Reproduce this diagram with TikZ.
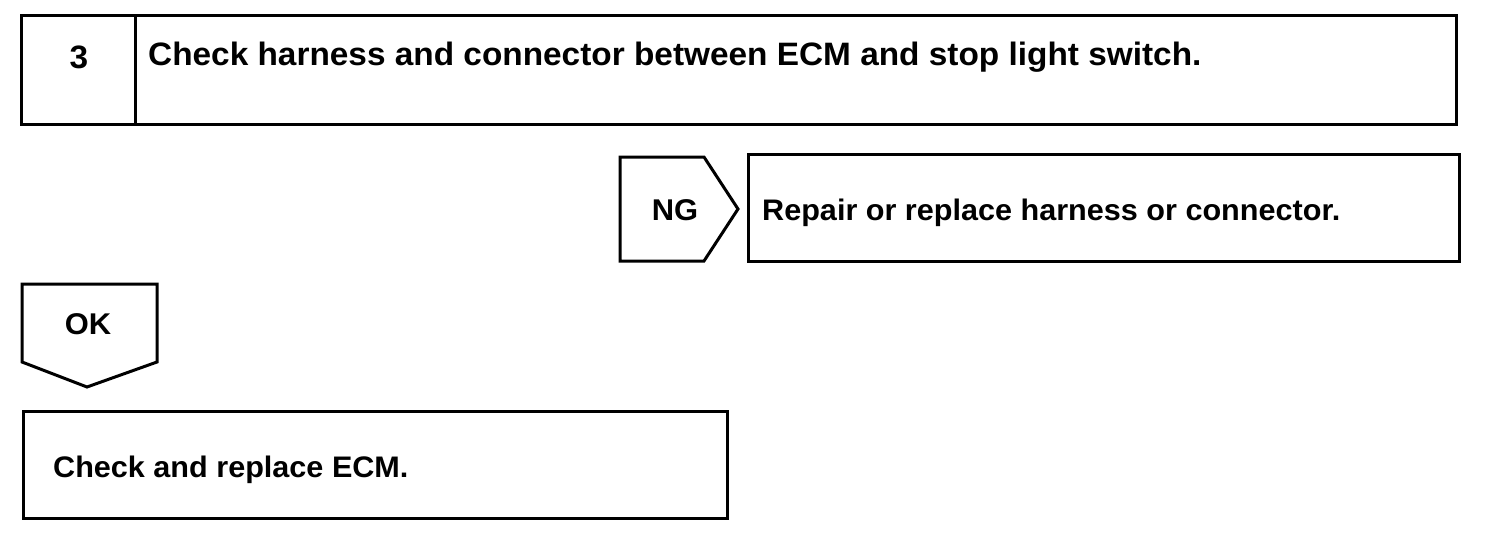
\documentclass[tikz,border=0pt]{standalone}
\usepackage{fontspec}
\setmainfont{Liberation Sans}[FakeStretch=1.03]
\begin{document}
\begin{tikzpicture}[x=1pt,y=-1pt,
  frame/.style={line width=3pt,line join=miter},
  lbl/.style={font=\bfseries\fontsize{30}{33}\selectfont,inner sep=0pt,anchor=base},
  big/.style={lbl,font=\bfseries\fontsize{32.4}{35}\selectfont},
  txt/.style={lbl,anchor=base west}]
\useasboundingbox[fill=white] (0,0) rectangle (1504,538);
% step 3 box
\draw[frame] (21,15) rectangle (1456,124);
\draw[frame] (135,15) -- (135,124);
\node[big] (num) at (79,68) {3};
\node[big,anchor=base west] (head) at (148,65) {Check harness and connector between ECM and stop light switch.};
% NG
\draw[frame] (620,157) -- (704,157) -- (738,209) -- (704,261) -- (620,261) -- cycle;
\node[lbl] (ng) at (675,220) {NG};
\draw[frame] (748,154) rectangle (1459,261);
\node[txt,font=\bfseries\fontsize{29.7}{33}\selectfont] (repair) at (762,220) {Repair or replace harness or connector.};
% OK
\draw[frame] (22,284) -- (157,284) -- (157,362) -- (87,387) -- (22,362) -- cycle;
\node[lbl] (ok) at (88,334) {OK};
\draw[frame] (23,411) rectangle (727,518);
\node[txt,font=\bfseries\fontsize{29.7}{33}\selectfont] (ecm) at (53,477) {Check and replace ECM.};
\end{tikzpicture}
\end{document}
